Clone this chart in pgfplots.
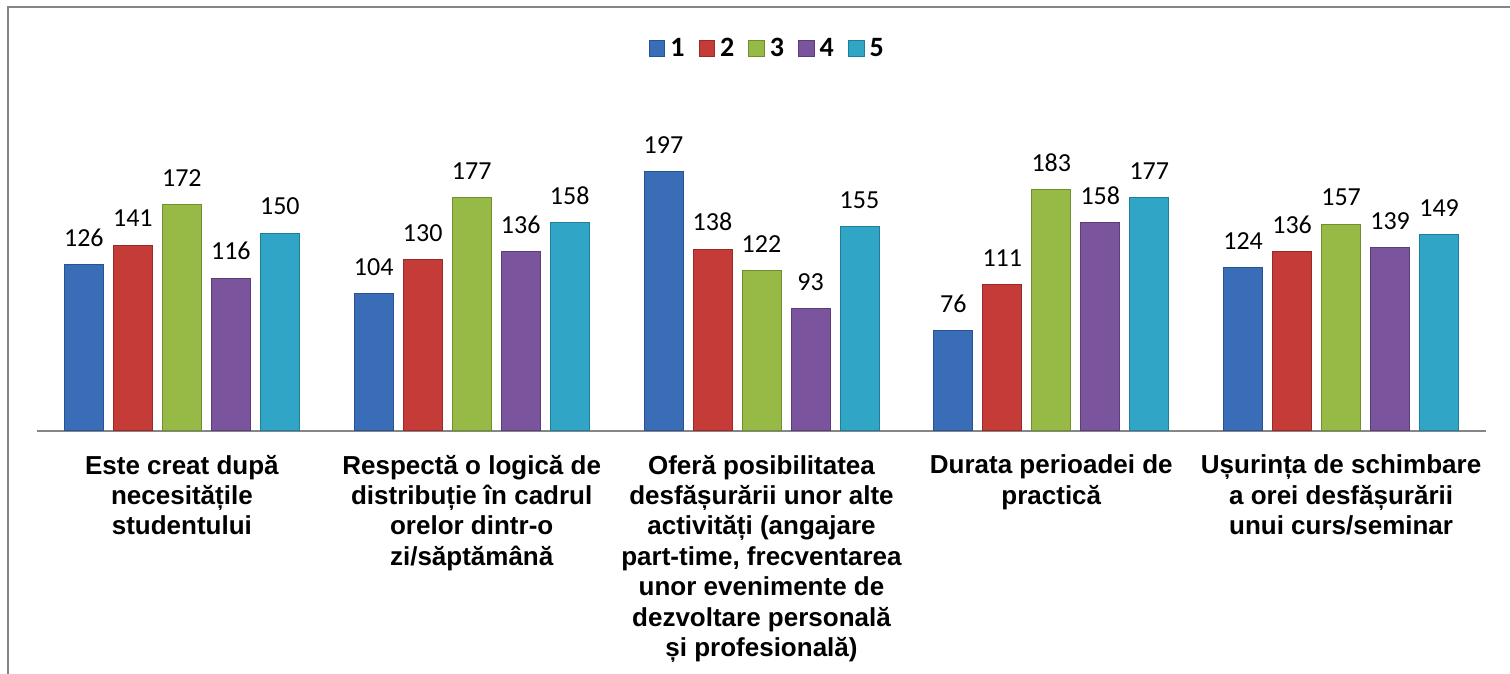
\documentclass[border=0pt]{standalone}
\usepackage{pgfplots}
\pgfplotsset{compat=1.18}
\usepackage{fontspec}
\setmainfont{Liberation Sans}
\newfontfamily\calibri{Carlito}
\definecolor{c1}{HTML}{3A6DB8}\definecolor{d1}{HTML}{2A5290}
\definecolor{c2}{HTML}{C43B38}\definecolor{d2}{HTML}{9A2A28}
\definecolor{c3}{HTML}{96BA45}\definecolor{d3}{HTML}{6F8E2E}
\definecolor{c4}{HTML}{7A559E}\definecolor{d4}{HTML}{5A3E7A}
\definecolor{c5}{HTML}{30A5C5}\definecolor{d5}{HTML}{217E98}
\definecolor{framegray}{HTML}{868686}
\begin{document}
\begin{tikzpicture}[x=1pt,y=1pt]
\path[use as bounding box] (0,0) rectangle (755,337);
\draw[framegray, line width=1pt] (4,-2) -- (4,333.5) -- (760,333.5);
\begin{axis}[
  at={(18.5pt,121.5pt)}, anchor=south west,
  scale only axis, width=724.5pt, height=164.75pt,
  xmin=-0.5, xmax=4.5, ymin=0, ymax=250,
  axis y line=none, axis x line*=bottom,
  x axis line style={framegray, line width=1pt, -},
  ybar=5pt, bar width=19.5pt,
  xtick={0,1,2,3,4}, major tick length=0pt,
  xticklabels={
    {Este creat după\\necesitățile\\studentului},
    {Respectă o logică de\\distribuție în cadrul\\orelor dintr-o\\zi/săptămână},
    {Oferă posibilitatea\\desfășurării unor alte\\activități (angajare\\part-time, frecventarea\\unor evenimente de\\dezvoltare personală\\și profesională)},
    {Durata perioadei de\\practică},
    {Ușurința de schimbare\\a orei desfășurării\\unui curs/seminar}},
  xticklabel style={font=\bfseries\fontsize{13}{15.2}\selectfont, align=center, anchor=north, yshift=-8.5pt},
  nodes near coords={\pgfmathprintnumber[assume math mode=true]{\pgfplotspointmeta}},
  every node near coord/.append style={font=\calibri\fontsize{13}{15}\selectfont, black, yshift=5.5pt},
  clip=false,
  legend columns=5,
  legend style={draw=none, fill=none, at={(0.505,1.16)}, anchor=center,
    font=\calibri\bfseries\fontsize{14}{16}\selectfont,
    /tikz/every odd column/.append style={column sep=0pt},
    /tikz/every even column/.append style={column sep=4.5pt},
    nodes={inner xsep=2.5pt}},
  legend image code/.code={\fill[#1] (0pt,-3.9pt) rectangle (7.8pt,3.9pt);},
]
\addplot[draw=d1, line width=0.5pt, fill=c1] coordinates {(0,126) (1,104) (2,197) (3,76) (4,124)};
\addplot[draw=d2, line width=0.5pt, fill=c2] coordinates {(0,141) (1,130) (2,138) (3,111) (4,136)};
\addplot[draw=d3, line width=0.5pt, fill=c3] coordinates {(0,172) (1,177) (2,122) (3,183) (4,157)};
\addplot[draw=d4, line width=0.5pt, fill=c4] coordinates {(0,116) (1,136) (2,93) (3,158) (4,139)};
\addplot[draw=d5, line width=0.5pt, fill=c5] coordinates {(0,150) (1,158) (2,155) (3,177) (4,149)};
\legend{1,2,3,4,5}
\end{axis}
\end{tikzpicture}
\end{document}
